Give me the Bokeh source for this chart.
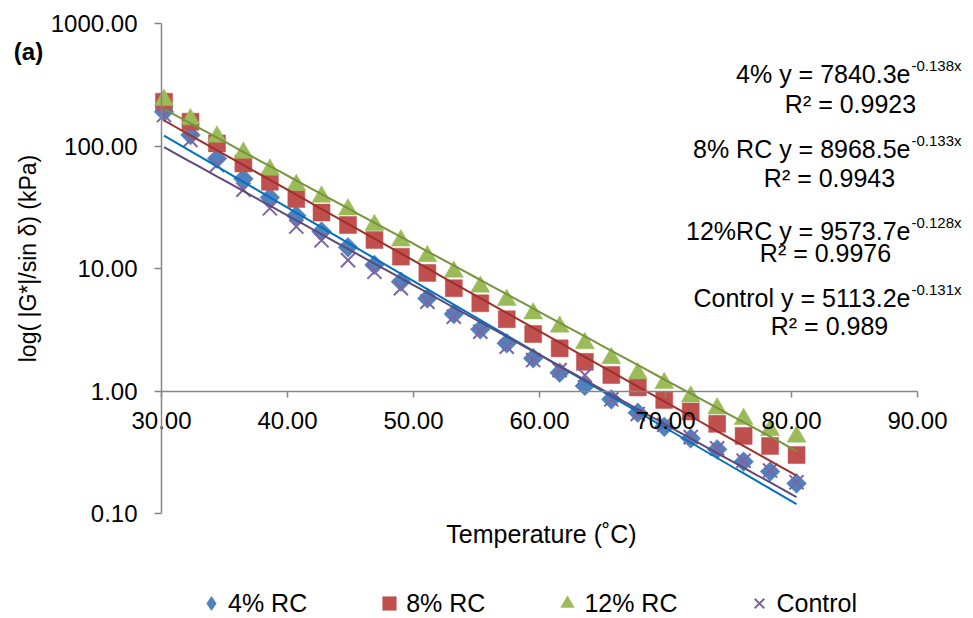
import numpy as np
from bokeh.plotting import figure
from bokeh.models import (Range1d, FixedTicker, PrintfTickFormatter, Label,
                          Legend, LegendItem)
from bokeh.embed import file_html
from bokeh.resources import INLINE

# ---------------- data ----------------
temperature = [30.2, 32.3, 34.4, 36.5, 38.6, 40.7, 42.7, 44.8, 46.9, 49.0,
               51.1, 53.2, 55.3, 57.4, 59.5, 61.6, 63.6, 65.7, 67.8, 69.9,
               72.0, 74.1, 76.2, 78.3, 80.4]
rc4 = [190, 123, 79, 54, 38, 27, 20, 14.9, 10.7, 7.8,
       5.7, 4.25, 3.19, 2.45, 1.85, 1.41, 1.10, 0.855, 0.665, 0.51,
       0.41, 0.334, 0.265, 0.22, 0.176]
rc8 = [230, 158, 105, 72, 51, 37, 28.6, 22.6, 17.1, 12.5,
       9.2, 6.9, 5.2, 3.85, 2.92, 2.23, 1.73, 1.35, 1.07, 0.845,
       0.68, 0.54, 0.43, 0.356, 0.30]
rc12 = [237, 165, 119, 88, 64, 48, 38.5, 30.3, 22.6, 16.9,
        12.6, 9.4, 7.1, 5.53, 4.3, 3.35, 2.45, 1.85, 1.39, 1.16,
        0.90, 0.72, 0.59, 0.48, 0.424]
control = [179, 112, 70, 44, 31, 22, 17, 11.7, 9.4, 6.9,
           5.36, 4.04, 3.05, 2.3, 1.79, 1.48, 1.35, 0.855, 0.65, 0.53,
           0.42, 0.34, 0.27, 0.224, 0.18]

series_names = ["4% RC", "8% RC", "12% RC", "Control"]
# trendline equations shown on the chart: y = a * exp(b * x)
fit_prefix = ["4%", "8% RC", "12%RC", "Control"]
fit_a = [7840.3, 8968.5, 9573.7, 5113.2]
fit_b = [-0.138, -0.133, -0.128, -0.131]
fit_r2 = ["0.9923", "0.9943", "0.9976", "0.989"]

x_ticks = [30, 40, 50, 60, 70, 80, 90]
y_ticks = [0.1, 1, 10, 100, 1000]
x_bounds = (30, 90)
y_bounds = (0.1, 1000)

# ---------------- geometry / styling ----------------
FONT = "Liberation Sans"
W, H = 973, 618
# plotting area (axis box) in canvas pixels
AX_L, AX_R, AX_T, AX_B = 161, 917, 23, 513
x_px = (AX_R - AX_L) / (x_bounds[1] - x_bounds[0])
dec_px = (AX_B - AX_T) / (np.log10(y_bounds[1]) - np.log10(y_bounds[0]))
x_start = x_bounds[0] - AX_L / x_px
x_end = x_bounds[1] + (W - AX_R) / x_px
y_start = 10 ** (np.log10(y_bounds[0]) - (H - AX_B) / dec_px)
y_end = 10 ** (np.log10(y_bounds[1]) + AX_T / dec_px)

marker_colors = ["#4F81BD", "#C0504D", "#9BBB59", "#8064A2"]
trend_colors = ["#0070C0", "#9E2F2C", "#77933C", "#5F497A"]
axis_color = "#868686"

p = figure(width=W, height=H, output_backend="svg", toolbar_location=None,
           x_range=Range1d(x_start, x_end), y_range=Range1d(y_start, y_end),
           y_axis_type="log",
           min_border_left=0, min_border_right=0,
           min_border_top=0, min_border_bottom=0)
p.outline_line_color = None
p.grid.visible = False
p.background_fill_color = "white"
p.border_fill_color = "white"

# x axis crossing at y = 1
xa = p.xaxis[0]
xa.fixed_location = 1
xa.bounds = x_bounds
xa.ticker = FixedTicker(ticks=x_ticks, minor_ticks=[])
xa.formatter = PrintfTickFormatter(format="%.2f")
xa.axis_line_color = axis_color
xa.axis_line_width = 1.5
xa.major_tick_line_color = axis_color
xa.major_tick_line_width = 1.5
xa.major_tick_out = 6
xa.major_tick_in = 0
xa.minor_tick_line_color = None
xa.major_label_standoff = 15
xa.major_label_text_font = FONT
xa.major_label_text_font_size = "24px"
xa.major_label_text_color = "black"

# y axis at x = 30
ya = p.yaxis[0]
ya.fixed_location = x_bounds[0]
ya.bounds = y_bounds
ya.ticker = FixedTicker(ticks=y_ticks, minor_ticks=[])
ya.formatter = PrintfTickFormatter(format="%.2f")
ya.axis_line_color = axis_color
ya.axis_line_width = 1.5
ya.major_tick_line_color = axis_color
ya.major_tick_line_width = 1.5
ya.major_tick_out = 7
ya.major_tick_in = 0
ya.minor_tick_line_color = None
ya.major_label_standoff = 17
ya.major_label_text_font = FONT
ya.major_label_text_font_size = "24px"
ya.major_label_text_color = "black"

# ---------------- markers ----------------
r4 = p.scatter(temperature, rc4, marker="square", angle=np.pi / 4, size=14,
               fill_color=marker_colors[0], line_color=marker_colors[0], line_width=0.5)
r8 = p.scatter(temperature, rc8, marker="square", size=17,
               fill_color=marker_colors[1], line_color=marker_colors[1], line_width=0.5)
r12 = p.scatter(temperature, rc12, marker="triangle", size=19,
                fill_color=marker_colors[2], line_color=marker_colors[2], line_width=0.5)
rc = p.scatter(temperature, control, marker="x", size=20,
               line_color=marker_colors[3], line_width=2)
# legend swatch for the diamond series (legend glyphs are not rotated)
r4_key = p.scatter([np.nan], [np.nan], marker="diamond", size=14,
                   fill_color=marker_colors[0], line_color=marker_colors[0])

# ---------------- trendlines (from the displayed equations) ----------------
xt = np.linspace(min(temperature), max(temperature), 60)
for a, b, c in zip(fit_a, fit_b, trend_colors):
    p.line(xt, a * np.exp(b * xt), line_color=c, line_width=2)

# ---------------- texts ----------------
def lab(X, Y, text, size="25px", align="center", baseline="middle",
        angle=0.0, style="normal"):
    p.add_layout(Label(x=X, y=H - Y, x_units="screen", y_units="screen",
                       text=text, text_font=FONT, text_font_size=size,
                       text_align=align, text_baseline=baseline, angle=angle,
                       text_font_style=style, text_color="black"))

lab(28, 51, "(a)", size="24px", style="bold")
lab(27, 258, "log( |G*|/sin δ) (kPa)", size="23px", angle=np.pi / 2)
lab(541, 533, "Temperature (˚C)")

eq_base = [73, 148, 230, 297]
r2_base = [103, 177, 252, 325]
r2_center = [850, 829, 825, 829]
for i in range(4):
    lab(910, eq_base[i], f"{fit_prefix[i]} y = {fit_a[i]}e",
        align="right", baseline="alphabetic")
    lab(911, eq_base[i] - 8, f"{fit_b[i]}x", size="15px",
        align="left", baseline="alphabetic")
    lab(r2_center[i], r2_base[i], f"R² = {fit_r2[i]}", baseline="alphabetic")

# ---------------- legend ----------------
legend = Legend(items=[LegendItem(label=n, renderers=[r])
                       for n, r in zip(series_names, [r4_key, r8, r12, rc])],
                orientation="horizontal", location=(194, H - 620),
                glyph_width=34, glyph_height=34, label_standoff=0,
                spacing=65, padding=0, margin=0,
                border_line_color=None, background_fill_alpha=0,
                label_text_font=FONT, label_text_font_size="25px",
                label_text_color="black")
p.add_layout(legend)

open("out.html", "w").write(file_html(p, INLINE))
